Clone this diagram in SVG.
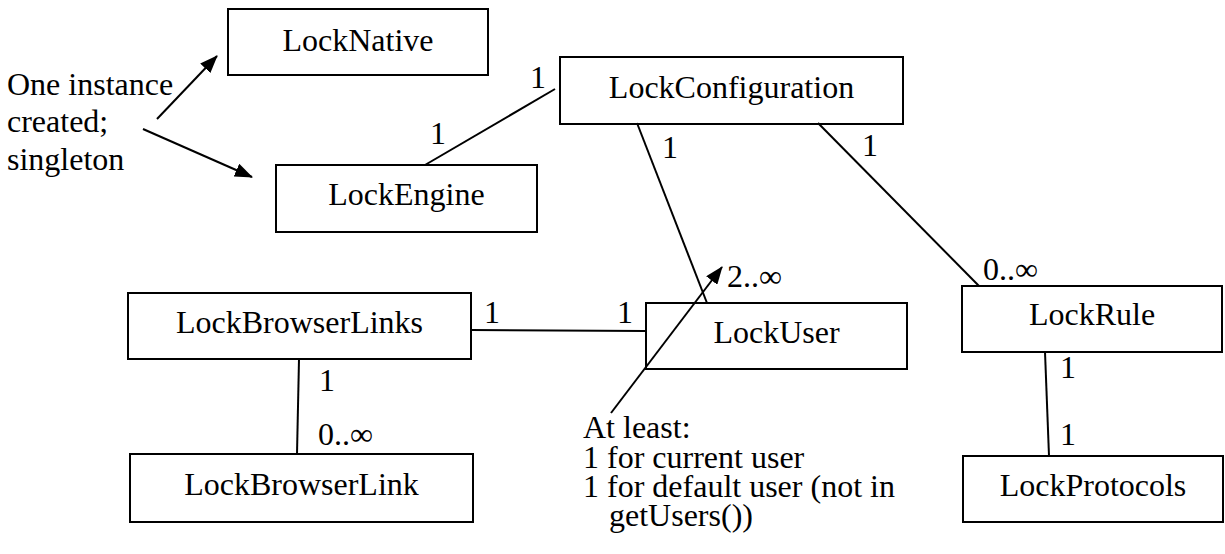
<svg xmlns="http://www.w3.org/2000/svg" width="1225" height="554" viewBox="0 0 1225 554">
<defs>
<marker id="arr" markerUnits="userSpaceOnUse" markerWidth="18" markerHeight="14" viewBox="0 0 18 14" refX="17" refY="7" orient="auto">
<path d="M0,0 L18,7 L0,14 Z" fill="#000"/>
</marker>
</defs>
<style>
.box{fill:none;stroke:#000;stroke-width:2}
.c{text-anchor:middle}
.ln{stroke:#000;stroke-width:2;fill:none}
</style>
<rect width="1225" height="554" fill="#fff"/>
<g font-family="'Liberation Serif', 'Times New Roman', Times, serif" font-size="32" fill="#000">
<g id="LockNative"><rect class="box" x="228" y="9" width="260" height="66"/><text x="358" y="51" class="c">LockNative</text></g>
<g id="LockConfiguration"><rect class="box" x="560" y="57" width="343" height="67"/><text x="731.5" y="98" class="c">LockConfiguration</text></g>
<g id="LockEngine"><rect class="box" x="276" y="165" width="261" height="67"/><text x="406.5" y="205" class="c">LockEngine</text></g>
<g id="LockBrowserLinks"><rect class="box" x="128" y="293" width="343" height="66"/><text x="299.5" y="333" class="c">LockBrowserLinks</text></g>
<g id="LockUser"><rect class="box" x="646" y="303" width="261" height="66"/><text x="776.5" y="343" class="c">LockUser</text></g>
<g id="LockRule"><rect class="box" x="962" y="286" width="260" height="66"/><text x="1092" y="325" class="c">LockRule</text></g>
<g id="LockBrowserLink"><rect class="box" x="130" y="454" width="343" height="68"/><text x="301.5" y="495" class="c">LockBrowserLink</text></g>
<g id="LockProtocols"><rect class="box" x="963" y="456" width="260" height="66"/><text x="1093" y="496" class="c">LockProtocols</text></g>
<g id="note-singleton">
<text x="7" y="95">One instance<tspan x="7" y="132">created;</tspan><tspan x="7" y="170">singleton</tspan></text>
</g>
<g id="note-users">
<text x="583" y="438">At least:<tspan x="583" y="468">1 for current user</tspan><tspan x="583" y="497">1 for default user (not in</tspan><tspan x="609" y="526">getUsers())</tspan></text>
</g>
<g id="connectors">
<line class="ln" x1="555" y1="89" x2="425" y2="165"/>
<line class="ln" x1="637" y1="123" x2="707" y2="303"/>
<line class="ln" x1="818" y1="123" x2="979" y2="286"/>
<line class="ln" x1="471" y1="330" x2="646" y2="331"/>
<line class="ln" x1="299" y1="359" x2="297" y2="454"/>
<line class="ln" x1="1045" y1="352" x2="1049" y2="456"/>
<line class="ln" x1="157" y1="119" x2="217" y2="56" marker-end="url(#arr)"/>
<line class="ln" x1="143" y1="129" x2="252" y2="177" marker-end="url(#arr)"/>
<line class="ln" x1="611" y1="413" x2="722" y2="267" marker-end="url(#arr)"/>
<text x="538" y="88" class="c">1</text>
<text x="438" y="144" class="c">1</text>
<text x="670" y="158" class="c">1</text>
<text x="870" y="156" class="c">1</text>
<text x="727" y="287">2..∞</text>
<text x="983" y="280">0..∞</text>
<text x="492" y="323" class="c">1</text>
<text x="625" y="323" class="c">1</text>
<text x="327" y="391" class="c">1</text>
<text x="318" y="445">0..∞</text>
<text x="1068" y="378" class="c">1</text>
<text x="1068" y="445" class="c">1</text>
</g>
</g>
</svg>
